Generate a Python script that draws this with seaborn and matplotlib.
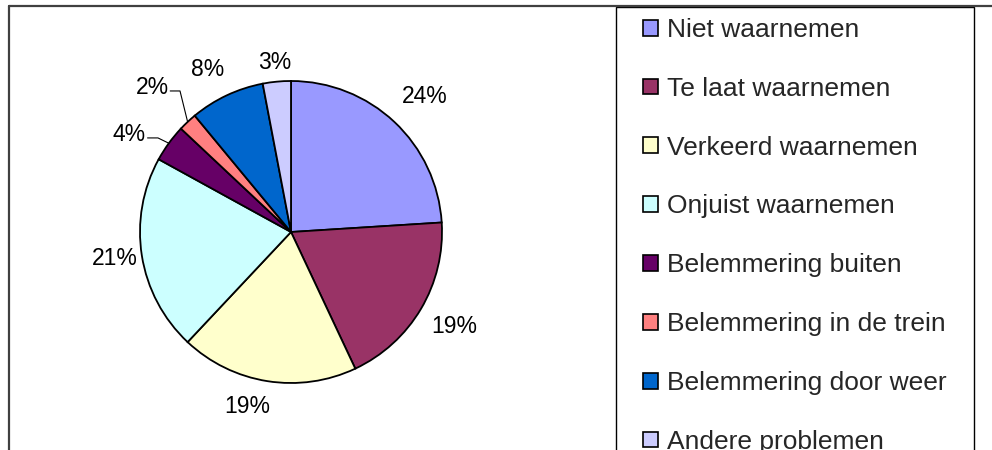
import numpy as np
import matplotlib
matplotlib.use('Agg')
import matplotlib.pyplot as plt
import seaborn as sns
from matplotlib.patches import Rectangle, Patch
from matplotlib.lines import Line2D

# --- DATA ---
categories = ['Niet waarnemen', 'Te laat waarnemen', 'Verkeerd waarnemen', 'Onjuist waarnemen',
              'Belemmering buiten', 'Belemmering in de trein', 'Belemmering door weer',
              'Andere problemen']
shares = [24, 19, 19, 21, 4, 2, 8, 3]
colors = ['#9999FF', '#993366', '#FFFFCC', '#CCFFFF', '#660066', '#FF8080', '#0066CC', '#CCCCFF']

# --- STYLE ---
sns.set_style('white')
plt.rcParams['font.family'] = ['Liberation Sans', 'DejaVu Sans']

W, H = 992, 450
fig = plt.figure(figsize=(W / 100, H / 100), dpi=100)

# pie placed by its centre and radius in pixels
cx, cy, r = 291, 232, 151
ax = fig.add_axes([(cx - r) / W, 1 - (cy + r) / H, 2 * r / W, 2 * r / H])
wedges, texts, autotexts = ax.pie(shares, colors=colors, startangle=90, counterclock=False,
                                  autopct='%1.0f%%', pctdistance=1.2,
                                  wedgeprops=dict(edgecolor='black', linewidth=1.3),
                                  textprops=dict(fontsize=16.5, color='black'))
ax.set_xlim(-1, 1)
ax.set_ylim(-1, 1)
for w in wedges:
    w.set_clip_on(False)

# label distance and angle shift per slice (None = label with leader line)
label_pos = [(1.26, -1.5), (1.25, 0.5), (1.19, -5), (1.18, -0.5), None, None, (1.21, 2), (1.13, 0)]
for w, t, pos in zip(wedges, autotexts, label_pos):
    mid = np.deg2rad((w.theta1 + w.theta2) / 2)
    if pos is None:
        continue
    a = mid + np.deg2rad(pos[1])
    t.set_position((pos[0] * np.cos(a), pos[0] * np.sin(a)))

# leader lines for the two small slices
leaders = {4: ((-0.881, 0.623), -0.95, 0.645), 5: ((-0.735, 0.934), -0.80, 0.954)}
for i, (elbow, x_end, ty) in leaders.items():
    w = wedges[i]
    mid = np.deg2rad((w.theta1 + w.theta2) / 2)
    ax.plot([np.cos(mid), elbow[0], x_end], [np.sin(mid), elbow[1], elbow[1]],
            color='black', lw=0.8, clip_on=False)
    autotexts[i].set_position((x_end - 0.01, ty))
    autotexts[i].set_ha('right')

# chart frame (top and left visible)
fig.add_artist(Line2D([9 / W, 1], [1 - 6 / H, 1 - 6 / H], transform=fig.transFigure,
                      color='#404040', lw=1.6))
fig.add_artist(Line2D([9 / W, 9 / W], [0, 1 - 6 / H], transform=fig.transFigure,
                      color='#404040', lw=1.6))

# legend box
fig.add_artist(Rectangle((616 / W, -0.1), (974 - 616) / W, 1.1 - 7 / H, transform=fig.transFigure,
                         facecolor='none', edgecolor='black', lw=1))

handles = [Patch(facecolor=c, edgecolor='black', linewidth=1.2) for c in colors]
fig.legend(handles, categories, loc='upper left', bbox_to_anchor=(643 / W, 1 - 18 / H),
           frameon=False, fontsize=19, handlelength=0.55, handleheight=0.55,
           handletextpad=0.36, labelspacing=1.32, borderpad=0, borderaxespad=0)

fig.savefig('out.png', dpi=100)
